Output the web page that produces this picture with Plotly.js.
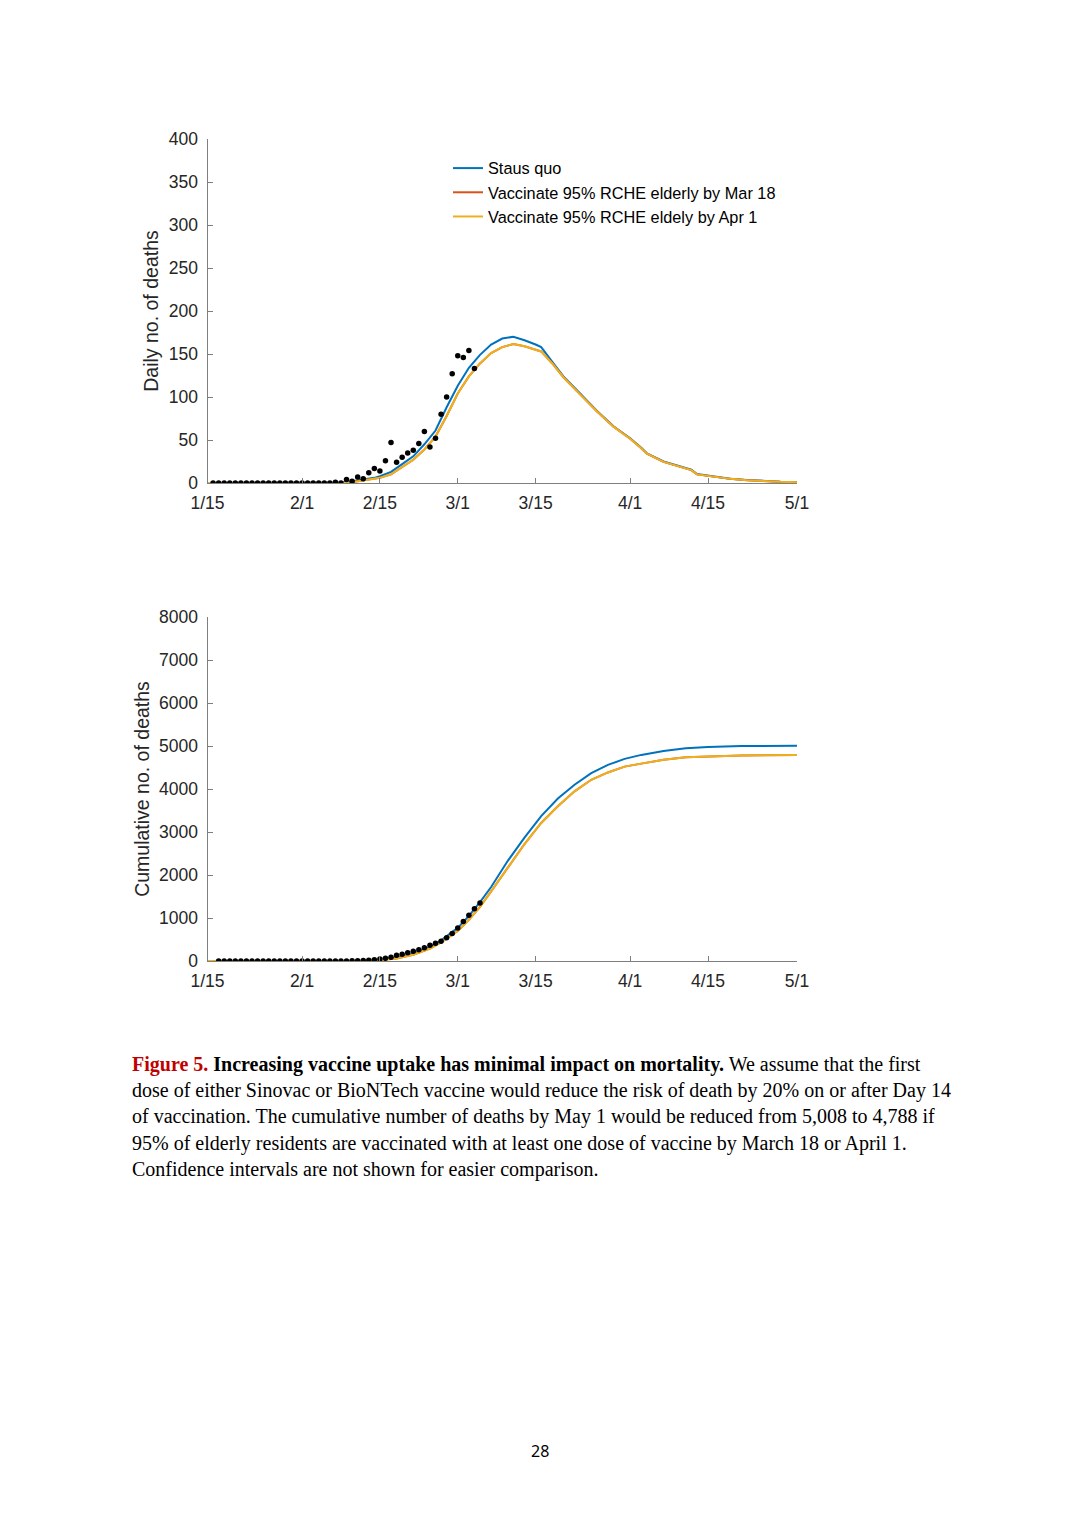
<!DOCTYPE html>
<html>
<head>
<meta charset="utf-8">
<script src="https://cdn.plot.ly/plotly-3.0.1.min.js"></script>
<style>
  html, body { margin: 0; padding: 0; background: #ffffff; }
  #chart { width: 1080px; height: 1528px; }
</style>
</head>
<body>
<div id="chart"></div>
<script>
// ---------------- DATA ----------------
const tickDates  = ['2021-01-15','2021-02-01','2021-02-15','2021-03-01','2021-03-15','2021-04-01','2021-04-15','2021-05-01'];
const tickLabels = ['1/15','2/1','2/15','3/1','3/15','4/1','4/15','5/1'];

const seriesNames = ['Staus quo', 'Vaccinate 95% RCHE elderly by Mar 18', 'Vaccinate 95% RCHE eldely by Apr 1'];

// Daily deaths – model curves
const dailyCurveDates = ['2021-01-15','2021-02-08','2021-02-10','2021-02-12','2021-02-14','2021-02-15','2021-02-17','2021-02-19',
  '2021-02-21','2021-02-23','2021-02-25','2021-02-27','2021-03-01','2021-03-03','2021-03-05','2021-03-07','2021-03-09','2021-03-11',
  '2021-03-13','2021-03-15','2021-03-16','2021-03-18','2021-03-20','2021-03-23','2021-03-26','2021-03-29','2021-04-01','2021-04-03',
  '2021-04-04','2021-04-07','2021-04-10','2021-04-12','2021-04-13','2021-04-16','2021-04-19','2021-04-22','2021-04-25','2021-04-28','2021-05-01'];
const statusQuoDaily = [0, 0.5, 2, 4, 6, 8, 13, 22, 31, 45, 61, 88, 113, 134, 149, 161, 168, 170, 166, 161, 158, 141, 124, 104, 84, 66, 52, 41,
  34.5, 25, 19, 15.5, 10.5, 7.4, 5, 3.5, 2.3, 1.5, 1];
const mar18Daily = [0, 0, 1, 3, 5, 6, 10, 18, 27, 39, 54, 78, 104, 124, 139, 151, 158, 161.5, 159, 155, 153, 139, 123, 103, 83.5, 65.5, 51.5, 40.5,
  34, 24.5, 18.5, 15, 10, 7, 4.8, 3.3, 2.2, 1.4, 0.9];
const apr1Daily  = [0, 0, 1, 3, 5, 6, 10, 18, 27, 39, 54, 78, 104, 124, 139, 151, 158, 161.5, 159, 155, 153, 139, 123, 103, 83.5, 65.5, 51.5, 40.5,
  34, 24.5, 18.5, 15, 10, 7, 4.8, 3.3, 2.2, 1.4, 0.9];

// Daily deaths – observed (1/16 .. 3/4)
const observedDailyStart = '2021-01-16';
const observedDaily = [0,0,0,0,0,0,0,0,0,0,0,0,0,0,0,0,0,0,0,0,0,0,
  1, 0, 4, 2, 7, 5, 12, 17, 14, 26, 47, 24, 30, 35, 38, 46, 60, 42, 52, 80, 100, 127, 148, 146, 154, 133];

// Cumulative deaths – model curves
const cumCurveDates = ['2021-01-15','2021-02-09','2021-02-12','2021-02-15','2021-02-18','2021-02-21','2021-02-24','2021-02-26','2021-03-01',
  '2021-03-03','2021-03-05','2021-03-07','2021-03-10','2021-03-13','2021-03-16','2021-03-19','2021-03-22','2021-03-25','2021-03-28',
  '2021-03-31','2021-04-03','2021-04-07','2021-04-11','2021-04-15','2021-04-21','2021-05-01'];
const statusQuoCum = [0, 1, 8, 30, 75, 170, 330, 480, 770, 1050, 1370, 1720, 2330, 2870, 3370, 3780, 4100, 4370, 4560, 4700, 4793, 4885, 4945, 4975, 4998, 5008];
const mar18Cum     = [0, 0, 5, 22, 60, 145, 290, 430, 700, 960, 1260, 1620, 2180, 2720, 3210, 3600, 3945, 4215, 4385, 4520, 4590, 4680, 4740, 4762, 4780, 4788];
const apr1Cum      = [0, 0, 5, 22, 60, 145, 290, 430, 700, 960, 1260, 1620, 2180, 2720, 3210, 3600, 3945, 4215, 4385, 4520, 4590, 4680, 4740, 4762, 4780, 4788];

// Cumulative deaths – observed (1/17 .. 3/5)
const observedCumStart = '2021-01-17';
const observedCum = [0,0,0,0,0,0,0,0,0,0,0,0,0,0,0,0,0,0,0,0,0,0,
  1, 1, 5, 7, 14, 19, 31, 48, 62, 88, 135, 159, 189, 224, 262, 308, 368, 410, 462, 542, 642, 769, 917, 1063, 1217, 1350];

const dailyTicks = [0, 50, 100, 150, 200, 250, 300, 350, 400];
const cumTicks   = [0, 1000, 2000, 3000, 4000, 5000, 6000, 7000, 8000];

const captionLines = [
  '<span style="color:#C00000"><b>Figure 5.</b></span> <b>Increasing vaccine uptake has minimal impact on mortality.</b> We assume that the first',
  'dose of either Sinovac or BioNTech vaccine would reduce the risk of death by 20% on or after Day 14',
  'of vaccination. The cumulative number of deaths by May 1 would be reduced from 5,008 to 4,788 if',
  '95% of elderly residents are vaccinated with at least one dose of vaccine by March 18 or April 1.',
  'Confidence intervals are not shown for easier comparison.'
];
const pageNumber = '28';

// ---------------- HELPERS ----------------
function dayList(start, n) {
  const out = [];
  const d0 = new Date(start + 'T00:00:00Z');
  for (let i = 0; i < n; i++) {
    const d = new Date(d0.getTime() + i * 86400000);
    out.push(d.toISOString().slice(0, 10));
  }
  return out;
}

const W = 1080, H = 1528;
const px = v => v / W;
const py = v => (H - v) / H;

const colors = ['#0072BD', '#D95319', '#EDB120'];
const axisGray = '#7f7f7f';
const tickFont = { family: 'Liberation Sans, Arial, sans-serif', size: 17.5, color: '#262626' };

function lineTrace(x, y, i, xa, ya, showLeg) {
  return { x: x, y: y, type: 'scatter', mode: 'lines', name: seriesNames[i],
    line: { color: colors[i], width: 2 }, xaxis: xa, yaxis: ya, showlegend: showLeg, hoverinfo: 'skip' };
}
function dotTrace(x, y, xa, ya) {
  return { x: x, y: y, type: 'scatter', mode: 'markers', marker: { color: '#000000', size: 5.5 },
    xaxis: xa, yaxis: ya, showlegend: false, hoverinfo: 'skip' };
}

const data = [
  lineTrace(dailyCurveDates, statusQuoDaily, 0, 'x', 'y', true),
  lineTrace(dailyCurveDates, mar18Daily, 1, 'x', 'y', true),
  lineTrace(dailyCurveDates, apr1Daily, 2, 'x', 'y', true),
  dotTrace(dayList(observedDailyStart, observedDaily.length), observedDaily, 'x', 'y'),
  lineTrace(cumCurveDates, statusQuoCum, 0, 'x2', 'y2', false),
  lineTrace(cumCurveDates, mar18Cum, 1, 'x2', 'y2', false),
  lineTrace(cumCurveDates, apr1Cum, 2, 'x2', 'y2', false),
  dotTrace(dayList(observedCumStart, observedCum.length), observedCum, 'x2', 'y2')
];

function xAxis(anchor) {
  return {
    domain: [px(207.5), px(797)], anchor: anchor, type: 'date',
    range: ['2021-01-15', '2021-05-01'], tickmode: 'array', tickvals: tickDates, ticktext: tickLabels,
    ticks: 'inside', ticklen: 5, tickwidth: 1, tickcolor: axisGray, ticklabelstandoff: 4,
    showline: true, linecolor: axisGray, linewidth: 1, showgrid: false, zeroline: false,
    tickfont: tickFont, fixedrange: true
  };
}
function yAxis(anchor, top, bottom, maxV, ticks, title) {
  return {
    domain: [py(bottom), py(top)], anchor: anchor, range: [0, maxV],
    tickmode: 'array', tickvals: ticks, ticktext: ticks.map(String),
    ticks: 'inside', ticklen: 5, tickwidth: 1, tickcolor: axisGray, ticklabelstandoff: 5,
    showline: true, linecolor: axisGray, linewidth: 1, showgrid: false, zeroline: false,
    tickfont: tickFont, fixedrange: true,
    title: { text: title, font: { family: 'Liberation Sans, Arial, sans-serif', size: 19.5, color: '#262626' }, standoff: 4 }
  };
}

const annotations = captionLines.map((t, i) => ({
  text: t, xref: 'paper', yref: 'paper', x: px(130), y: py([1064, 1090, 1116, 1143, 1169][i]),
  xanchor: 'left', yanchor: 'middle', showarrow: false, align: 'left',
  font: { family: 'Liberation Serif, Times New Roman, serif', size: 20, color: '#000000' }
}));
annotations.push({
  text: pageNumber, xref: 'paper', yref: 'paper', x: px(540), y: py(1451), xanchor: 'center', yanchor: 'middle',
  showarrow: false, font: { family: 'Noto Sans, Liberation Sans, sans-serif', size: 16, color: '#000000' }
});

const layout = {
  width: W, height: H, margin: { l: 0, r: 0, t: 0, b: 0 },
  paper_bgcolor: '#ffffff', plot_bgcolor: '#ffffff',
  xaxis: xAxis('y'), yaxis: yAxis('x', 139, 483, 400, dailyTicks, 'Daily no. of deaths'),
  xaxis2: xAxis('y2'), yaxis2: yAxis('x2', 617, 961, 8000, cumTicks, 'Cumulative no. of deaths'),
  showlegend: true,
  legend: { x: px(448), y: py(151), xanchor: 'left', yanchor: 'top', bgcolor: 'rgba(0,0,0,0)',
    font: { family: 'Liberation Sans, Arial, sans-serif', size: 16.3, color: '#000000' }, tracegroupgap: 0 },
  annotations: annotations
};

Plotly.newPlot('chart', data, layout, { staticPlot: true, displayModeBar: false });
</script>
</body>
</html>
